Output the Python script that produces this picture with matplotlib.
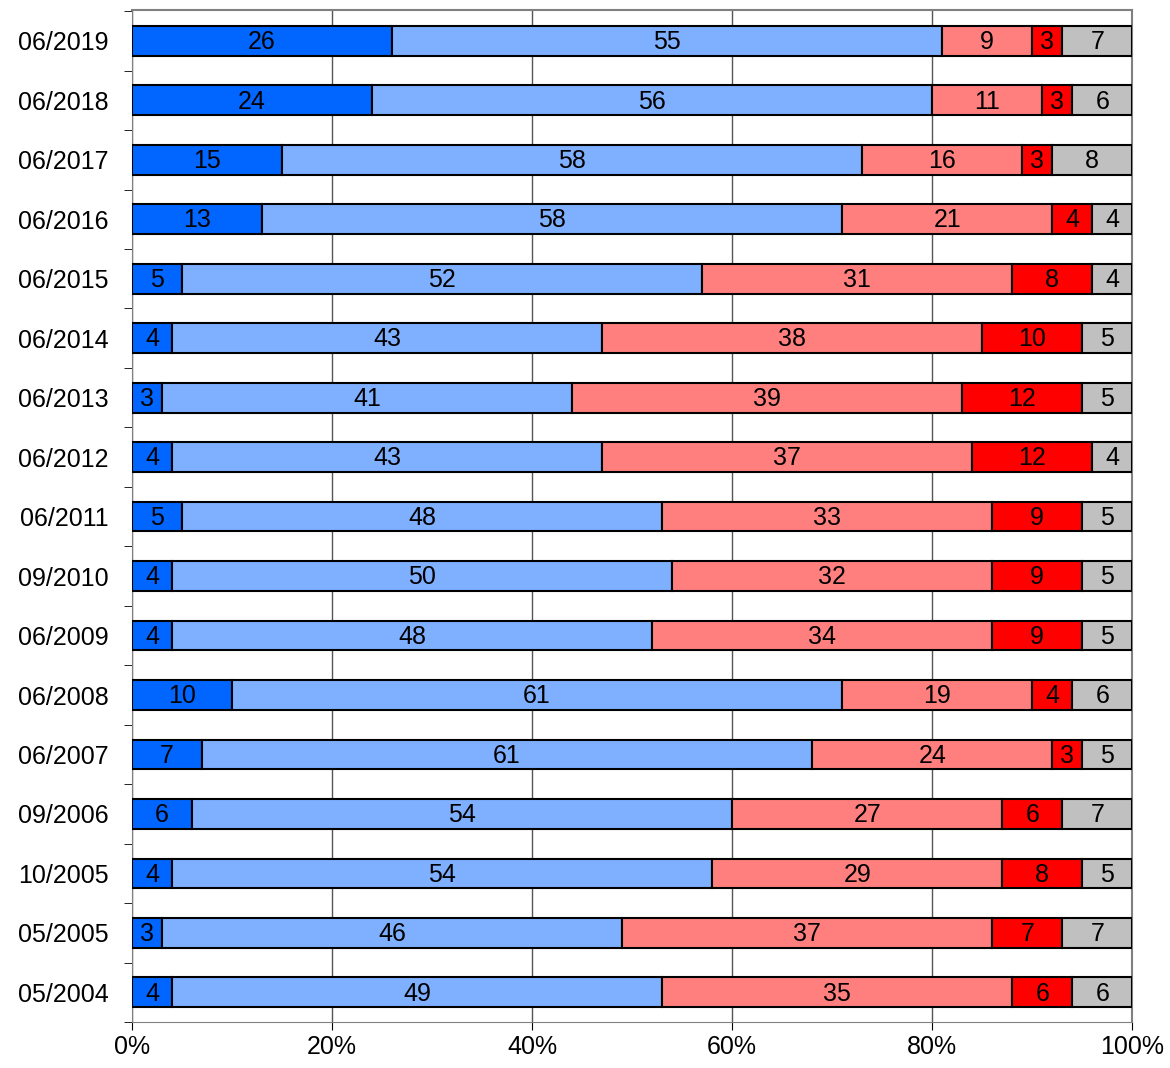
import matplotlib.pyplot as plt
import numpy as np

plt.rcParams['font.family'] = ['Liberation Sans', 'DejaVu Sans']

dates = ["06/2019", "06/2018", "06/2017", "06/2016", "06/2015", "06/2014", "06/2013",
         "06/2012", "06/2011", "09/2010", "06/2009", "06/2008", "06/2007", "09/2006",
         "10/2005", "05/2005", "05/2004"]
s1 = [26, 24, 15, 13, 5, 4, 3, 4, 5, 4, 4, 10, 7, 6, 4, 3, 4]
s2 = [55, 56, 58, 58, 52, 43, 41, 43, 48, 50, 48, 61, 61, 54, 54, 46, 49]
s3 = [9, 11, 16, 21, 31, 38, 39, 37, 33, 32, 34, 19, 24, 27, 29, 37, 35]
s4 = [3, 3, 3, 4, 8, 10, 12, 12, 9, 9, 9, 4, 3, 6, 8, 7, 6]
s5 = [7, 6, 8, 4, 4, 5, 5, 4, 5, 5, 5, 6, 5, 7, 5, 7, 6]

series = [s1, s2, s3, s4, s5]
colors = ["#0066FF", "#7FAFFF", "#FF7F7F", "#FF0000", "#C0C0C0"]

fig = plt.figure(figsize=(11.7, 10.68), dpi=100)
ax = fig.add_axes([0.1128, 0.043, 0.855, 0.9477])

y = np.arange(len(dates))
left = np.zeros(len(dates))
for vals, col in zip(series, colors):
    vals = np.array(vals)
    ax.barh(y, vals, left=left, height=0.5, color=col, edgecolor="black", linewidth=1.5, zorder=3)
    for yi, l, v in zip(y, left, vals):
        ax.text(l + v / 2, yi + 0.02, str(v), ha="center", va="center", fontsize=18, zorder=4)
    left += vals

ax.set_xlim(0, 100)
ax.set_ylim(16.5, -0.52)
ax.set_yticks(y)
ax.set_yticklabels(dates, fontsize=18)
ax.set_yticks(np.arange(-0.5, 17, 1), minor=True)
ax.tick_params(axis="y", which="major", length=0, pad=17)
ax.tick_params(axis="y", which="minor", length=6, direction="out")
ax.set_xticks(range(0, 101, 20))
ax.set_xticklabels([f"{v}%" for v in range(0, 101, 20)], fontsize=18)
ax.tick_params(axis="x", length=6, direction="out")
ax.xaxis.grid(True, color="#555555", linewidth=1, zorder=0)
for sp in ["top", "right"]:
    ax.spines[sp].set_color("#808080")
    ax.spines[sp].set_linewidth(1.5)
for sp in ["left", "bottom"]:
    ax.spines[sp].set_color("#808080")

plt.savefig("out.png", dpi=100)
